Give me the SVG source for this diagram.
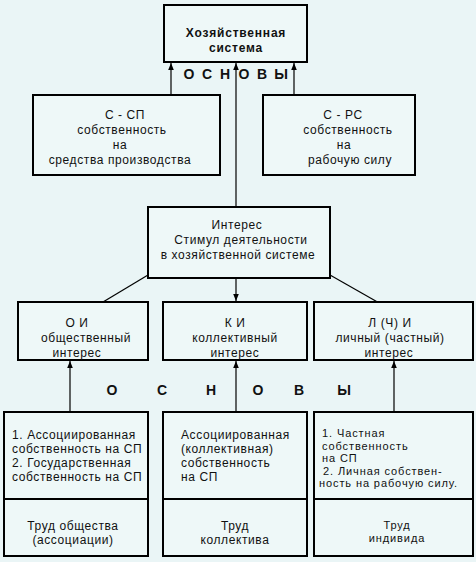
<svg xmlns="http://www.w3.org/2000/svg" width="476" height="562" viewBox="0 0 476 562">
<defs>
<style>
.box{fill:#eef8f8;stroke:#000;stroke-width:2}
.t{font-family:"Liberation Sans",Arial,sans-serif;font-size:12px;letter-spacing:0.6px;fill:#111;text-anchor:middle}
.l{text-anchor:start}
.s{font-size:11px;letter-spacing:0.9px}
.b{font-weight:bold;font-size:12px;letter-spacing:0.8px}
.os{font-family:"Liberation Sans",Arial,sans-serif;font-weight:bold;font-size:14px;fill:#111;text-anchor:middle}
.ln{stroke:#000;stroke-width:1.2;fill:none}
</style>
<marker id="ah" viewBox="0 0 10 10" refX="10" refY="5" markerWidth="7" markerHeight="7" orient="auto-start-reverse" markerUnits="userSpaceOnUse">
<path d="M0,1 L10,5 L0,9 z" fill="#000"/>
</marker>
</defs>
<rect width="476" height="562" fill="#eaf5f6"/>
<g id="connectors">
<line class="ln" x1="171" y1="95" x2="171" y2="63" marker-end="url(#ah)"/>
<line class="ln" x1="294" y1="95" x2="294" y2="63" marker-end="url(#ah)"/>
<line class="ln" x1="236" y1="207" x2="236" y2="63" marker-end="url(#ah)"/>
<line class="ln" x1="236" y1="278" x2="236" y2="301" marker-end="url(#ah)"/>
<line class="ln" x1="148" y1="275" x2="93" y2="308" marker-end="url(#ah)"/>
<line class="ln" x1="330" y1="275" x2="388" y2="308" marker-end="url(#ah)"/>
<line class="ln" x1="70" y1="412" x2="70" y2="361" marker-end="url(#ah)"/>
<line class="ln" x1="236" y1="412" x2="236" y2="361" marker-end="url(#ah)"/>
<line class="ln" x1="394" y1="412" x2="394" y2="361" marker-end="url(#ah)"/>
</g>
<g id="osnovy1" class="os">
<text x="189" y="79">О</text><text x="207" y="79">С</text><text x="225" y="79">Н</text><text x="244" y="79">О</text><text x="262" y="79">В</text><text x="281" y="79">Ы</text>
</g>
<g id="osnovy2" class="os">
<text x="112" y="395">О</text><text x="162" y="395">С</text><text x="211" y="395">Н</text><text x="258" y="395">О</text><text x="299" y="395">В</text><text x="344" y="395">Ы</text>
</g>
<g id="hs">
<rect class="box" x="164" y="5" width="143" height="57"/>
<text class="t b" x="236" y="37">Хозяйственная</text>
<text class="t b" x="236" y="52">система</text>
</g>
<g id="csp">
<rect class="box" x="33" y="95" width="187" height="80"/>
<text class="t" x="125" y="119">С - СП</text>
<text class="t" x="122" y="134">собственность</text>
<text class="t" x="120" y="149">на</text>
<text class="t" x="120" y="164">средства производства</text>
</g>
<g id="crs">
<rect class="box" x="263" y="95" width="152" height="80"/>
<text class="t" x="343" y="119">С - РС</text>
<text class="t" x="348" y="134">собственность</text>
<text class="t" x="344" y="149">на</text>
<text class="t" x="350" y="164">рабочую силу</text>
</g>
<g id="interes">
<rect class="box" x="148" y="207" width="182" height="71"/>
<text class="t" x="237" y="229">Интерес</text>
<text class="t" x="241" y="244">Стимул деятельности</text>
<text class="t" x="238" y="259">в хозяйственной системе</text>
</g>
<g id="oi">
<rect class="box" x="18" y="302" width="130" height="58"/>
<text class="t" x="77" y="327">О И</text>
<text class="t" x="86" y="342">общественный</text>
<text class="t" x="77" y="357">интерес</text>
</g>
<g id="ki">
<rect class="box" x="163" y="302" width="144" height="58"/>
<text class="t" x="235" y="327">К И</text>
<text class="t" x="235" y="342">коллективный</text>
<text class="t" x="235" y="357">интерес</text>
</g>
<g id="lchi">
<rect class="box" x="314" y="302" width="159" height="58"/>
<text class="t" x="390" y="327">Л (Ч) И</text>
<text class="t" x="390" y="342">личный (частный)</text>
<text class="t" x="389" y="357">интерес</text>
</g>
<g id="b1">
<rect class="box" x="4" y="412" width="144" height="144"/>
<line class="box" x1="4" y1="499" x2="148" y2="499"/>
<text class="t l" x="12" y="439">1. Ассоциированная</text>
<text class="t l" x="12" y="453">собственность на СП</text>
<text class="t l" x="12" y="467">2. Государственная</text>
<text class="t l" x="12" y="481">собственность на СП</text>
<text class="t" x="73" y="530">Труд общества</text>
<text class="t" x="73" y="544">(ассоциации)</text>
</g>
<g id="b2">
<rect class="box" x="163" y="412" width="144" height="144"/>
<line class="box" x1="163" y1="499" x2="307" y2="499"/>
<text class="t l" x="181" y="439">Ассоциированная</text>
<text class="t l" x="181" y="453">(коллективная)</text>
<text class="t l" x="181" y="467">собственность</text>
<text class="t l" x="181" y="481">на СП</text>
<text class="t" x="235" y="530">Труд</text>
<text class="t" x="235" y="544">коллектива</text>
</g>
<g id="b3">
<rect class="box" x="314" y="412" width="159" height="144"/>
<line class="box" x1="314" y1="499" x2="473" y2="499"/>
<text class="t l s" x="322" y="437">1. Частная</text>
<text class="t l s" x="322" y="449.5">собственность</text>
<text class="t l s" x="322" y="462">на СП</text>
<text class="t l s" x="323" y="474.5">2. Личная собствен-</text>
<text class="t l s" x="319" y="487">ность на рабочую силу.</text>
<text class="t s" x="397" y="529">Труд</text>
<text class="t s" x="397" y="541.5">индивида</text>
</g>
</svg>
